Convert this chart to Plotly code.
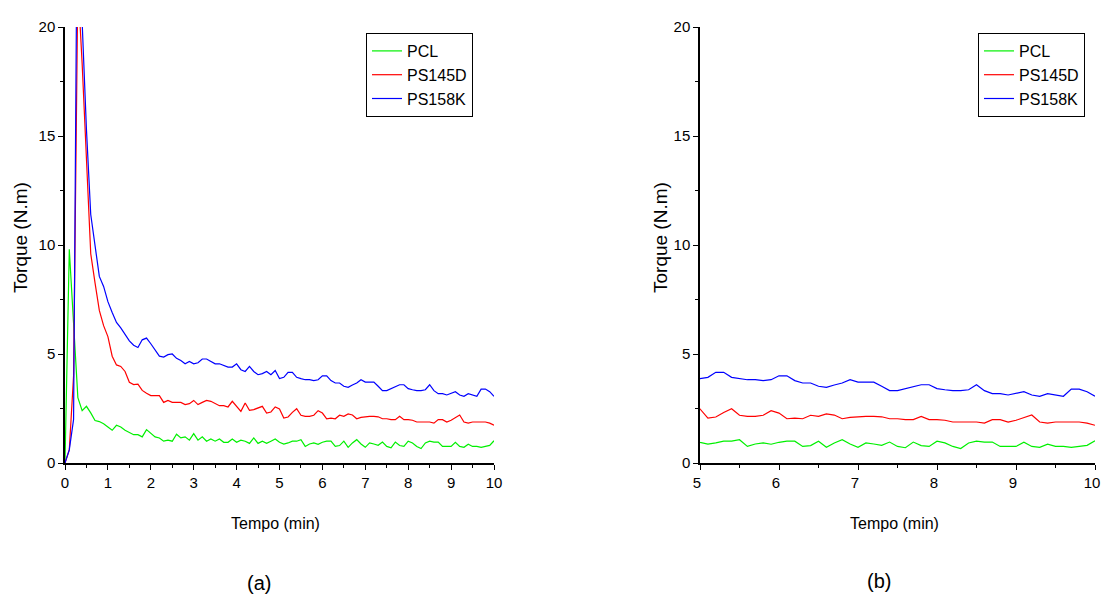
import plotly.graph_objects as go

time_min = [round(i * 0.1, 1) for i in range(101)]

pcl = [0, 9.8, 6.4, 3.0, 2.4, 2.6, 2.3, 1.95, 1.9, 1.8,
       1.65, 1.5, 1.73, 1.65, 1.5, 1.4, 1.3, 1.3, 1.2, 1.53,
       1.35, 1.2, 1.15, 1.0, 1.05, 1.0, 1.32, 1.15, 1.2, 1.05,
       1.35, 1.05, 1.2, 1.0, 1.1, 1.0, 1.1, 0.95, 0.95, 1.1,
       0.95, 1.05, 1.0, 0.9, 1.15, 0.9, 1.0, 0.9, 1.0, 1.1,
       0.95, 0.87, 0.92, 1.0, 1.0, 1.07, 0.76, 0.87, 0.92, 0.86,
       0.95, 1.0, 1.0, 0.76, 0.8, 1.0, 0.72, 0.92, 1.07, 0.87,
       0.72, 0.92, 0.87, 0.81, 0.96, 0.76, 0.7, 0.96, 0.8, 0.76,
       1.0, 0.92, 0.76, 0.66, 0.92, 1.0, 0.96, 0.96, 0.76, 0.76,
       0.76, 0.95, 0.76, 0.72, 0.86, 0.76, 0.76, 0.72, 0.76, 0.81,
       1.02]

ps145d = [0, 0.6, 4.0, 22.0, 18.3, 14.3, 9.6, 8.26, 7.0, 6.3,
          5.8, 4.9, 4.5, 4.43, 4.2, 3.7, 3.6, 3.62, 3.33, 3.2,
          3.09, 3.09, 3.09, 2.78, 2.87, 2.78, 2.78, 2.78, 2.68, 2.72,
          2.87, 2.68, 2.78, 2.87, 2.83, 2.72, 2.63, 2.63, 2.57, 2.83,
          2.6, 2.37, 2.75, 2.42, 2.45, 2.52, 2.6, 2.29, 2.34, 2.57,
          2.48, 2.06, 2.11, 2.32, 2.49, 2.19, 2.14, 2.14, 2.19, 2.4,
          2.29, 2.03, 2.06, 2.03, 2.19, 2.14, 2.25, 2.2, 2.03, 2.09,
          2.12, 2.14, 2.14, 2.12, 2.03, 2.03, 1.99, 1.99, 2.14, 1.99,
          1.99, 1.96, 1.88, 1.88, 1.88, 1.88, 1.83, 1.99, 1.99, 1.88,
          1.96, 2.09, 2.2, 1.88, 1.83, 1.88, 1.88, 1.88, 1.88, 1.83,
          1.73]

ps158k = [0, 0.6, 2.0, 30.0, 20.2, 15.3, 11.4, 9.9, 8.56, 8.1,
          7.4, 6.9, 6.45, 6.2, 5.9, 5.6, 5.4, 5.3, 5.65, 5.73,
          5.47, 5.2, 4.9, 4.86, 4.97, 5.0, 4.8, 4.7, 4.55, 4.66,
          4.55, 4.6, 4.77, 4.77, 4.66, 4.55, 4.55, 4.46, 4.4, 4.4,
          4.55, 4.28, 4.2, 4.43, 4.2, 4.05, 4.1, 4.2, 4.05, 4.24,
          3.87, 3.93, 4.16, 4.16, 3.93, 3.87, 3.82, 3.82, 3.78, 3.82,
          4.0, 4.0, 3.78, 3.67, 3.67, 3.52, 3.47, 3.58, 3.67, 3.82,
          3.71, 3.71, 3.71, 3.52, 3.32, 3.32, 3.41, 3.47, 3.59, 3.59,
          3.41, 3.36, 3.32, 3.32, 3.36, 3.59, 3.32, 3.18, 3.18, 3.12,
          3.21, 3.27, 3.12, 3.06, 3.18, 3.12, 3.06, 3.39, 3.39, 3.27,
          3.06]

series_names = ["PCL", "PS145D", "PS158K"]
series_values = [pcl, ps145d, ps158k]
series_colors = ["#00f000", "#ff0000", "#0000ff"]

y_ticks = [0, 5, 10, 15, 20]
x_ticks_a = list(range(0, 11))
x_ticks_b = list(range(5, 11))

NARROW = "Liberation Sans Narrow, Arial Narrow, Liberation Sans, Arial, sans-serif"
REG = "Liberation Sans, Arial, sans-serif"

fig = go.Figure()
for xa, ya, leg in [("x", "y", "legend"), ("x2", "y2", "legend2")]:
    for name, vals, col in zip(series_names, series_values, series_colors):
        fig.add_trace(go.Scatter(x=time_min, y=vals, mode="lines", name=name,
                                 line=dict(color=col, width=1.2),
                                 xaxis=xa, yaxis=ya, legend=leg))

ax_common = dict(showline=True, linecolor="black", linewidth=1.5, showgrid=False,
                 zeroline=False, ticks="outside", ticklen=5, tickwidth=1.2,
                 automargin=False,
                 tickcolor="black", tickfont=dict(family=NARROW, size=15, color="black"),
                 minor=dict(ticks="outside", ticklen=3, tickwidth=1.2, tickcolor="black"))

ydom = [1 - 463 / 594, 1 - 27 / 594]
leg_common = dict(xanchor="left", yanchor="top",
                  bordercolor="black", borderwidth=1, bgcolor="white",
                  font=dict(family=NARROW, size=16, color="black"),
                  tracegroupgap=0, itemwidth=30)
fig.update_layout(
    width=1101, height=594,
    margin=dict(l=0, r=0, t=0, b=0, autoexpand=False),
    paper_bgcolor="white", plot_bgcolor="white",
    xaxis=dict(domain=[65 / 1101, 494 / 1101], range=[0, 10], tickvals=x_ticks_a,
               anchor="y", ticklabeloverflow="allow", **ax_common),
    yaxis=dict(domain=ydom, range=[0, 20], tickvals=y_ticks, anchor="x", **ax_common),
    xaxis2=dict(domain=[700 / 1101, 1095 / 1101], range=[5, 10], tickvals=x_ticks_b,
                anchor="y2", ticklabeloverflow="allow", ticklabelshift=-3, **ax_common),
    yaxis2=dict(domain=ydom, range=[0, 20], tickvals=y_ticks, anchor="x2", **ax_common),
    legend=dict(x=366 / 1101, y=1 - 33 / 594, **leg_common),
    legend2=dict(x=978 / 1101, y=1 - 33 / 594, **leg_common),
    showlegend=True,
)
fig.update_xaxes(minor_dtick=0.5)
fig.update_yaxes(minor_dtick=2.5)

ann = [
    dict(text="Torque (N.m)", x=20, y=238, textangle=-90, size=19, fam=REG),
    dict(text="Torque (N.m)", x=660, y=238, textangle=-90, size=19, fam=REG),
    dict(text="Tempo (min)", x=275, y=523, textangle=0, size=16, fam=NARROW),
    dict(text="Tempo (min)", x=894, y=523, textangle=0, size=16, fam=NARROW),
    dict(text="(a)", x=259, y=583, textangle=0, size=20, fam=REG),
    dict(text="(b)", x=879, y=581, textangle=0, size=20, fam=REG),
]
for a in ann:
    fig.add_annotation(text=a["text"], x=a["x"] / 1101, y=1 - a["y"] / 594,
                       xref="paper", yref="paper", showarrow=False,
                       xanchor="center", yanchor="middle", textangle=a["textangle"],
                       font=dict(family=a["fam"], size=a["size"], color="black"))

fig.write_html("out.html", config={"displayModeBar": False},
               post_script="document.body.style.margin='0';document.body.style.overflow='hidden';")
